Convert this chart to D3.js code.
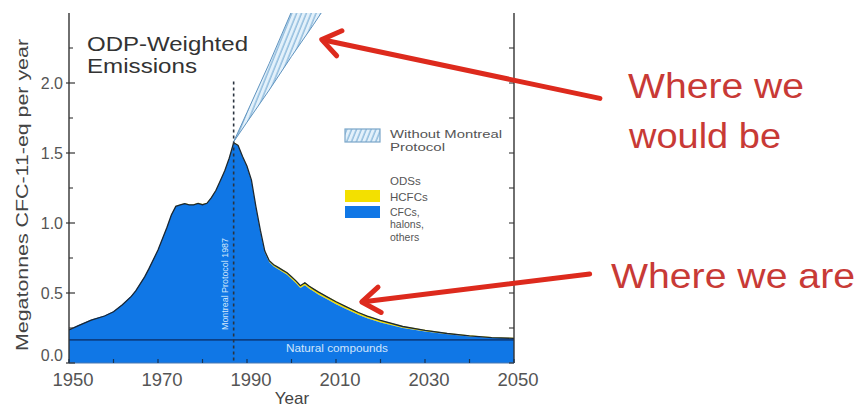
<!DOCTYPE html>
<html>
<head>
<meta charset="utf-8">
<script src="https://cdn.jsdelivr.net/npm/d3@7/dist/d3.min.js"></script>
<style>
  html, body { margin: 0; padding: 0; background: #fff; }
  svg { display: block; }
  text { font-family: "Liberation Sans", Arial, sans-serif; }
</style>
</head>
<body>
<svg id="chart" width="860" height="408"></svg>
<script>
// ---------------- data ----------------
const years = [1950,1952,1955,1958,1960,1962,1964,1965,1966,1967,1968,1970,1972,1973,1974,1975,1976,1977,1978,1979,1980,1981,1982,1983,1984,1985,1986,1987,1988,1989,1990,1991,1992,1993,1994,1995,1996,1997,1998,1999,2000,2001,2002,2003,2004,2005,2006,2008,2010,2012,2015,2017,2020,2025,2030,2035,2040,2045,2050];
const cfcs = [0.24,0.27,0.31,0.34,0.37,0.42,0.48,0.52,0.57,0.62,0.68,0.81,0.97,1.06,1.12,1.13,1.14,1.13,1.13,1.14,1.13,1.14,1.18,1.23,1.30,1.37,1.46,1.57,1.55,1.47,1.40,1.30,1.11,0.94,0.79,0.72,0.69,0.67,0.65,0.63,0.60,0.57,0.535,0.555,0.53,0.51,0.49,0.455,0.42,0.39,0.345,0.32,0.29,0.25,0.225,0.205,0.19,0.18,0.175];
const hcfcs = [0,0,0,0,0,0,0,0,0,0,0,0.001,0.002,0.002,0.003,0.003,0.003,0.004,0.004,0.004,0.005,0.005,0.005,0.006,0.006,0.007,0.007,0.008,0.008,0.009,0.010,0.011,0.012,0.013,0.014,0.015,0.016,0.017,0.018,0.019,0.020,0.021,0.021,0.022,0.022,0.022,0.022,0.022,0.022,0.021,0.020,0.019,0.018,0.015,0.012,0.010,0.008,0.006,0.005];
const wmpYears = [1987,1990,1995,2000,2005,2010];
const wmpUpper = [1.58,1.79,2.14,2.51,2.88,3.25];
const wmpLower = [1.58,1.72,1.95,2.19,2.42,2.66];
const naturalLevel = 0.165;
const protocolYear = 1987;
const xTicks = [1950,1970,1990,2010,2030,2050];
const xMinorTicks = [1950,1960,1970,1980,1990,2000,2010,2020,2030,2040,2050];
const yTicks = [0.0,0.5,1.0,1.5,2.0];
const yMinorTicks = [0.25,0.75,1.25,1.75,2.25];
const legendLabels = ["Without Montreal", "Protocol", "ODSs", "HCFCs", "CFCs,", "halons,", "others"];
const annotations = [
  {lines:["Where we","would be"], tip:[2006.8,2.31], tail:[2069.3,1.89]},
  {lines:["Where we are"], tip:[2015.8,0.436], tail:[2067.0,0.636]}
];

// ---------------- layout ----------------
const svg = d3.select("#chart");
const x = d3.scaleLinear().domain([1950,2050]).range([69,514]);
const y = d3.scaleLinear().domain([0,2.5]).range([363,13]);
const axisColor = "#333";
const blue = "#1077e6";

const defs = svg.append("defs");
defs.append("clipPath").attr("id","plotclip")
  .append("rect").attr("x",x(1950)).attr("y",y(2.5)).attr("width",x(2050)-x(1950)).attr("height",y(0)-y(2.5));
const pat = defs.append("pattern").attr("id","hatch").attr("patternUnits","userSpaceOnUse")
  .attr("width",4.5).attr("height",10).attr("patternTransform","rotate(22)");
pat.append("rect").attr("width",4.5).attr("height",10).attr("fill","#e3f1fb");
pat.append("line").attr("x1",1).attr("y1",0).attr("x2",1).attr("y2",10)
  .attr("stroke","#7fb0d6").attr("stroke-width",1.2);

const data = years.map((yr,i)=>({yr, c:cfcs[i], h:hcfcs[i]}));
const plot = svg.append("g").attr("clip-path","url(#plotclip)");

const wmp = wmpYears.map((yr,i)=>({yr, lo:wmpLower[i], hi:wmpUpper[i]}));
plot.append("path").datum(wmp)
  .attr("d", d3.area().x(d=>x(d.yr)).y0(d=>y(d.lo)).y1(d=>y(d.hi)))
  .attr("fill","url(#hatch)").attr("stroke","#5f93bf").attr("stroke-width",1);

plot.append("path").datum(data)
  .attr("d", d3.area().x(d=>x(d.yr)).y0(d=>y(d.c)).y1(d=>y(d.c+d.h)))
  .attr("fill","#f3e000");
plot.append("path").datum(data)
  .attr("d", d3.area().x(d=>x(d.yr)).y0(y(0)).y1(d=>y(d.c)))
  .attr("fill",blue);
plot.append("path").datum(data)
  .attr("d", d3.line().x(d=>x(d.yr)).y(d=>y(d.c+d.h)+0.6))
  .attr("fill","none").attr("stroke","#1b2733").attr("stroke-width",1.3);

plot.append("line").attr("x1",x(1950)).attr("x2",x(2050)).attr("y1",y(naturalLevel)).attr("y2",y(naturalLevel))
  .attr("stroke","#0b3f86").attr("stroke-width",1.6);
svg.append("text").attr("x",x(2010)+1).attr("y",y(naturalLevel)+12)
  .attr("text-anchor","middle").attr("font-size",10).attr("fill","#cfe4fb")
  .attr("textLength",102).attr("lengthAdjust","spacingAndGlyphs").text("Natural compounds");

svg.append("line").attr("x1",x(protocolYear)).attr("x2",x(protocolYear)).attr("y1",y(2.01)).attr("y2",y(0))
  .attr("stroke","#2b3440").attr("stroke-width",1.6).attr("stroke-dasharray","3,3");
svg.append("text").attr("transform",`translate(${x(protocolYear)-6},284) rotate(-90)`)
  .attr("text-anchor","middle").attr("font-size",8.5).attr("fill","#d3e7fb")
  .attr("textLength",92).attr("lengthAdjust","spacingAndGlyphs").text("Montreal Protocol 1987");

const ax = svg.append("g").attr("stroke",axisColor).attr("fill","none");
ax.append("line").attr("x1",x(1950)).attr("x2",x(1950)).attr("y1",y(2.5)).attr("y2",y(0)).attr("stroke-width",1.4);
ax.append("line").attr("x1",x(2050)).attr("x2",x(2050)).attr("y1",y(2.5)).attr("y2",y(0)).attr("stroke-width",1.4);
ax.append("line").attr("x1",x(1950)).attr("x2",x(2050)).attr("y1",y(0)).attr("y2",y(0)).attr("stroke","#4a78b0").attr("stroke-width",1);

ax.selectAll(".ylt").data(yTicks).join("line")
  .attr("x1",x(1950)-3).attr("x2",x(1950)+6).attr("y1",d=>y(d)).attr("y2",d=>y(d)).attr("stroke-width",1.2);
ax.selectAll(".ylm").data(yMinorTicks).join("line")
  .attr("x1",x(1950)).attr("x2",x(1950)+4).attr("y1",d=>y(d)).attr("y2",d=>y(d)).attr("stroke-width",1.1);
ax.selectAll(".yr").data(yTicks.concat(yMinorTicks)).join("line")
  .attr("x1",x(2050)-5).attr("x2",x(2050)).attr("y1",d=>y(d)).attr("y2",d=>y(d)).attr("stroke-width",1.1);
ax.selectAll(".xb").data(xMinorTicks).join("line")
  .attr("x1",d=>x(d)).attr("x2",d=>x(d)).attr("y1",y(0)).attr("y2",y(0)-4).attr("stroke","#1b3350").attr("stroke-width",1.2);

svg.selectAll(".ytl").data(yTicks).join("text")
  .attr("x",x(1950)-6).attr("y",d=>d===0? y(d)-2 : y(d)+5.5).attr("text-anchor","end")
  .attr("font-size",16).attr("fill","#555").text(d=>d.toFixed(1));
svg.selectAll(".xtl").data(xTicks).join("text")
  .attr("x",d=>x(d)+4).attr("y",386).attr("text-anchor","middle")
  .attr("font-size",18.5).attr("fill","#555").text(d=>d);

svg.append("text").attr("x",292).attr("y",404).attr("text-anchor","middle")
  .attr("font-size",17).attr("fill","#444").text("Year");
svg.append("text").attr("transform","translate(28,195) rotate(-90)").attr("text-anchor","middle")
  .attr("font-size",16).attr("fill","#444").attr("textLength",312).attr("lengthAdjust","spacingAndGlyphs")
  .text("Megatonnes CFC-11-eq per year");

svg.append("text").attr("x",87).attr("y",51).attr("font-size",21).attr("fill","#333")
  .attr("textLength",161).attr("lengthAdjust","spacingAndGlyphs").text("ODP-Weighted");
svg.append("text").attr("x",87).attr("y",73).attr("font-size",21).attr("fill","#333")
  .attr("textLength",110).attr("lengthAdjust","spacingAndGlyphs").text("Emissions");

// legend
const lg = svg.append("g").attr("font-size",11.5).attr("fill","#555");
lg.append("rect").attr("x",345).attr("y",129).attr("width",35).attr("height",13)
  .attr("fill","url(#hatch)").attr("stroke","#7aa6c8").attr("stroke-width",1.2);
lg.append("text").attr("x",390).attr("y",138).attr("textLength",112).attr("lengthAdjust","spacingAndGlyphs").text(legendLabels[0]);
lg.append("text").attr("x",390).attr("y",151).attr("textLength",55).attr("lengthAdjust","spacingAndGlyphs").text(legendLabels[1]);
lg.append("text").attr("x",390).attr("y",185).text(legendLabels[2]);
lg.append("rect").attr("x",345).attr("y",190).attr("width",35).attr("height",12).attr("fill","#f3e000");
lg.append("text").attr("x",390).attr("y",201).text(legendLabels[3]);
lg.append("rect").attr("x",345).attr("y",206).attr("width",35).attr("height",12).attr("fill",blue);
const lg2 = lg.append("g").attr("font-size",10.5);
lg2.append("text").attr("x",390).attr("y",215.5).text(legendLabels[4]);
lg2.append("text").attr("x",390).attr("y",228).text(legendLabels[5]);
lg2.append("text").attr("x",390).attr("y",240.5).text(legendLabels[6]);

// annotations
const red = "#dd2a1d";
annotations.forEach(a=>{
  const tx = x(a.tip[0]), ty = y(a.tip[1]);
  const sx = x(a.tail[0]), sy = y(a.tail[1]);
  const ang = Math.atan2(sy-ty, sx-tx);
  const L = 22, spread = 0.62;
  const p1 = [tx + L*Math.cos(ang-spread), ty + L*Math.sin(ang-spread)];
  const p2 = [tx + L*Math.cos(ang+spread), ty + L*Math.sin(ang+spread)];
  const g = svg.append("g").attr("stroke",red).attr("stroke-width",5).attr("stroke-linecap","round").attr("stroke-linejoin","round").attr("fill","none");
  g.append("line").attr("x1",sx).attr("y1",sy).attr("x2",tx+2*Math.cos(ang)).attr("y2",ty+2*Math.sin(ang));
  g.append("path").attr("d",`M${p1[0]},${p1[1]}L${tx},${ty}L${p2[0]},${p2[1]}`);
});
const rt = svg.append("g").attr("fill","#c83a36").attr("font-size",35);
rt.append("text").attr("x",628).attr("y",98).attr("textLength",176).attr("lengthAdjust","spacingAndGlyphs").text(annotations[0].lines[0]);
rt.append("text").attr("x",629).attr("y",148).attr("textLength",152).attr("lengthAdjust","spacingAndGlyphs").text(annotations[0].lines[1]);
rt.append("text").attr("x",611).attr("y",288).attr("textLength",244).attr("lengthAdjust","spacingAndGlyphs").text(annotations[1].lines[0]);
</script>
</body>
</html>
